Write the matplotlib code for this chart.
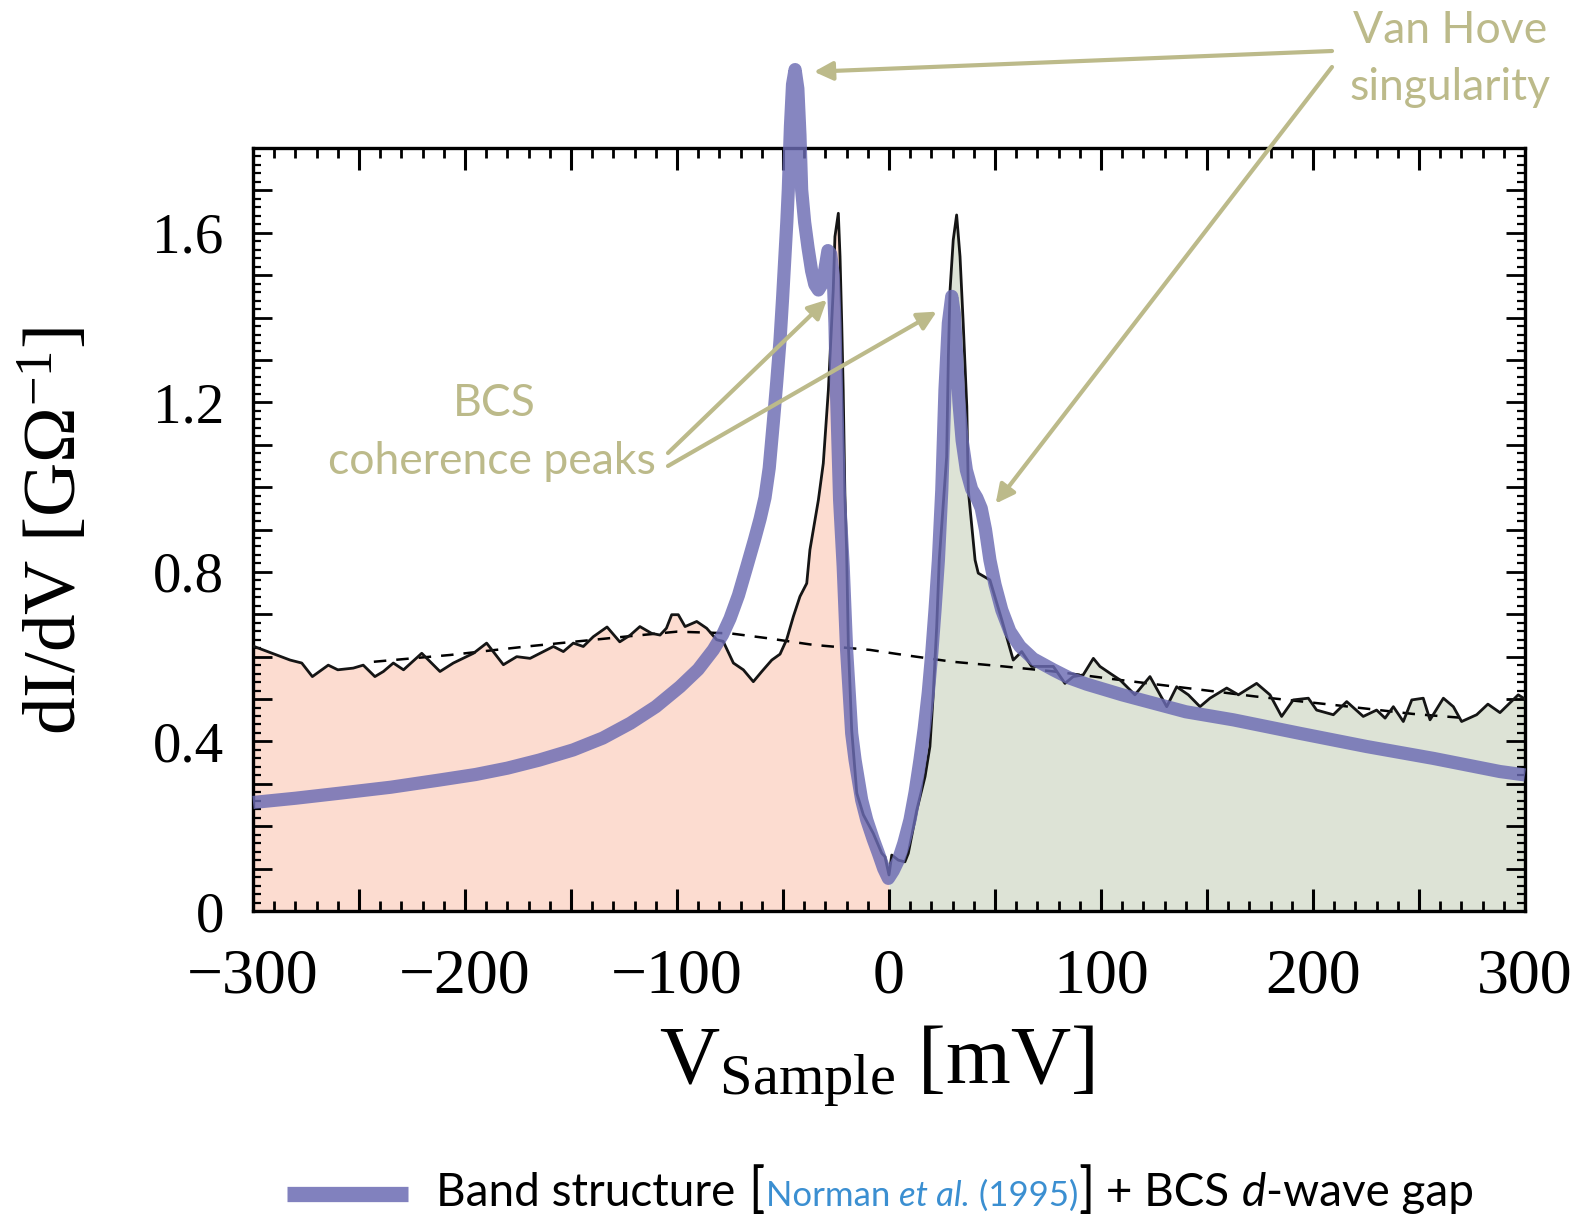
import numpy as np
import matplotlib
matplotlib.use("Agg")
import matplotlib.pyplot as plt
from matplotlib.lines import Line2D
from matplotlib.ticker import MultipleLocator

# ---------------- data ----------------
v_meas = [-300, -282.5, -277, -272, -264.5, -260, -252.7, -248, -242.5, -238.5,
          -233.8, -229, -220.4, -211.8, -205.5, -196, -189.8, -181.9, -175.6, -169.3,
          -164.6, -158.3, -153.6, -148.9, -144.2, -139.5, -133, -127, -122, -117.5,
          -112, -108, -105, -102.5, -99.4, -96.2, -90.7, -86, -81.3, -78.2,
          -73.4, -68.7, -64, -60, -55.3, -51.4, -48.3, -45.1, -42, -38.8,
          -37.3, -34.9, -33.3, -31, -28.6, -26.3, -25.5, -23.9, -23.1, -22.3,
          -21.6, -20.8, -20, -19.2, -17.6, -15.2, -12.1, -7.4, -3.4, -1.9,
          0.0, 1.3, 4.4, 7.5, 9.1, 13.1, 17, 19.3, 20.9, 22.5,
          23.7, 27.2, 28, 28.8, 30.3, 31.9, 33.5, 35, 36.7, 37.4,
          40.6, 42.1, 47.6, 53.2, 58.6, 62.6, 67.3, 71.2, 77.5, 83,
          86.9, 91.6, 96.4, 99.5, 104.2, 109, 116, 123.1, 131, 135.7,
          141.2, 146.7, 151.4, 159.3, 164.8, 173.4, 179.7, 185.2, 190.7, 197.8,
          201.7, 209.6, 215.9, 223.7, 230, 234, 237.9, 242.6, 246.6, 252,
          255.2, 261.5, 266.2, 270.1, 277.2, 282.5, 288.2, 296.8, 300]
didv_meas = [0.625, 0.592, 0.585, 0.553, 0.580, 0.569, 0.573, 0.580, 0.553, 0.565,
             0.585, 0.569, 0.608, 0.565, 0.585, 0.608, 0.632, 0.581, 0.600, 0.596,
             0.608, 0.624, 0.612, 0.632, 0.624, 0.647, 0.670, 0.635, 0.651, 0.671,
             0.655, 0.651, 0.667, 0.699, 0.699, 0.671, 0.683, 0.667, 0.640, 0.636,
             0.585, 0.569, 0.541, 0.565, 0.592, 0.606, 0.640, 0.695, 0.742, 0.773,
             0.852, 0.923, 0.970, 1.056, 1.229, 1.465, 1.591, 1.646, 1.544, 1.387,
             1.229, 0.980, 0.852, 0.632, 0.427, 0.278, 0.227, 0.183, 0.136, 0.128,
             0.085, 0.132, 0.120, 0.116, 0.136, 0.238, 0.317, 0.388, 0.514, 0.671,
             0.828, 1.072, 1.308, 1.465, 1.583, 1.642, 1.544, 1.387, 1.190, 0.993,
             0.828, 0.797, 0.781, 0.687, 0.592, 0.612, 0.577, 0.577, 0.577, 0.537,
             0.553, 0.557, 0.596, 0.577, 0.561, 0.545, 0.510, 0.553, 0.482, 0.529,
             0.510, 0.482, 0.502, 0.526, 0.510, 0.537, 0.510, 0.459, 0.498, 0.502,
             0.474, 0.463, 0.494, 0.459, 0.474, 0.455, 0.482, 0.447, 0.498, 0.502,
             0.451, 0.502, 0.482, 0.447, 0.463, 0.488, 0.468, 0.510, 0.500]

v_bg = [-243, -207, -171, -125, -100, -75, -58, -36, -9, 7,
        30, 54, 78, 109, 147, 173, 210, 247, 272]
didv_bg = [0.588, 0.604, 0.624, 0.647, 0.659, 0.655, 0.644, 0.628, 0.616, 0.604,
           0.588, 0.577, 0.565, 0.545, 0.522, 0.506, 0.486, 0.465, 0.455]

v_model = [-300, -280, -259, -235, -212, -195, -180, -165, -149, -135,
           -122, -110, -98.6, -90, -82.9, -78.5, -75, -71, -67.1, -63.5,
           -60.8, -58.5, -56.5, -54.6, -53, -51.4, -50.2, -49.1, -48.2, -47.5,
           -46.5, -45.5, -44.3, -43, -42, -41.2, -39.8, -38.2, -36.5, -35,
           -33.3, -31.5, -30.2, -28.8, -27.5, -26.3, -25.5, -24.8, -23.3, -21.6,
           -20, -17.6, -16, -12.9, -10.5, -7.5, -5, -2.5, -0.3, 2,
           4.4, 7, 9.9, 12.3, 14.6, 16.6, 18.5, 20.2, 21.7, 23.3,
           24.9, 26.4, 28, 29.6, 30.8, 31.8, 33, 34.5, 36.5, 39,
           41.4, 43.5, 45.5, 47.6, 50, 53.2, 57, 61.8, 68, 77.5,
           85, 93.3, 100, 110, 125, 140, 162.4, 193.9, 225.3, 256.8,
           288.2, 300]
didv_model = [0.256, 0.266, 0.278, 0.292, 0.309, 0.322, 0.337, 0.356, 0.380, 0.408,
              0.443, 0.482, 0.529, 0.570, 0.616, 0.652, 0.690, 0.745, 0.812, 0.875,
              0.925, 0.975, 1.045, 1.151, 1.245, 1.347, 1.445, 1.544, 1.625, 1.701,
              1.850, 1.950, 1.985, 1.940, 1.830, 1.701, 1.625, 1.565, 1.510, 1.478,
              1.465, 1.480, 1.515, 1.558, 1.550, 1.500, 1.387, 1.229, 0.970, 0.812,
              0.616, 0.419, 0.356, 0.262, 0.215, 0.170, 0.136, 0.100, 0.077, 0.095,
              0.120, 0.160, 0.215, 0.280, 0.356, 0.430, 0.514, 0.610, 0.710, 0.828,
              0.993, 1.229, 1.387, 1.450, 1.410, 1.320, 1.200, 1.110, 1.040, 0.995,
              0.975, 0.950, 0.900, 0.828, 0.770, 0.710, 0.660, 0.624, 0.595, 0.569,
              0.550, 0.535, 0.525, 0.510, 0.490, 0.470, 0.451, 0.419, 0.388, 0.360,
              0.329, 0.321]

xtick_values = [-300, -200, -100, 0, 100, 200, 300]
xtick_labels = ["\u2212300", "\u2212200", "\u2212100", "0", "100", "200", "300"]
ytick_values = [0.0, 0.4, 0.8, 1.2, 1.6]
ytick_labels = ["0", "0.4", "0.8", "1.2", "1.6"]

# ---------------- style ----------------
W, H = 1580, 1217
PURPLE = "#6b6bb3"
OLIVE = "#bcba8a"
BLUE = "#3b8fd1"
PEACH = "#fcdcd0"
SAGE = "#dde3d6"
SERIF = "Liberation Serif"
SANS = ["Lato", "DejaVu Sans"]

plt.rcParams["mathtext.fontset"] = "custom"
plt.rcParams["mathtext.rm"] = SERIF
plt.rcParams["mathtext.it"] = SERIF + ":italic"
plt.rcParams["mathtext.bf"] = SERIF + ":bold"


def fpos(x, y):
    return x / W, 1 - y / H


fig = plt.figure(figsize=(W / 100, H / 100), dpi=100)
ax_l, ax_r, ax_t, ax_b = 253, 1525, 148, 911
ax = fig.add_axes([ax_l / W, 1 - ax_b / H, (ax_r - ax_l) / W, (ax_b - ax_t) / H])

vm = np.array(v_meas)
dm = np.array(didv_meas)
ax.fill_between(vm, 0, dm, where=vm <= 0, color=PEACH, lw=0, zorder=1)
ax.fill_between(vm, 0, dm, where=vm >= 0, color=SAGE, lw=0, zorder=1)
ax.plot(v_bg, didv_bg, color="black", lw=1.8, ls=(0, (5, 4)), zorder=2)
ax.plot(v_meas, didv_meas, color="#151515", lw=2.0, zorder=3)
ax.plot(v_model, didv_model, color=PURPLE, lw=9.5, alpha=0.82,
        solid_capstyle="butt", solid_joinstyle="round", zorder=4, clip_on=False)

ax.set_xlim(-300, 300)
ax.set_ylim(0, 1.8)

major_x = np.arange(-300, 301, 50)
ax.set_xticks(major_x)
ax.set_xticklabels([xtick_labels[xtick_values.index(v)] if v in xtick_values else ""
                    for v in major_x])
major_y = np.round(np.arange(0, 1.81, 0.1), 2)
ax.set_yticks(major_y)
ax.set_yticklabels([ytick_labels[ytick_values.index(v)] if v in ytick_values else ""
                    for v in major_y])
ax.xaxis.set_minor_locator(MultipleLocator(10))
ax.yaxis.set_minor_locator(MultipleLocator(0.02))

ax.tick_params(which="both", direction="in", top=True, right=True, color="black")
ax.tick_params(axis="x", which="major", length=16, width=2.2, pad=27)
ax.tick_params(axis="x", which="minor", length=7, width=2.0)
ax.tick_params(axis="y", which="major", length=14, width=2.0, pad=21)
ax.tick_params(axis="y", which="minor", length=6, width=1.6)
for lab in ax.get_xticklabels():
    lab.set_fontfamily(SERIF)
    lab.set_fontsize(46)
for lab in ax.get_yticklabels():
    lab.set_fontfamily(SERIF)
    lab.set_fontsize(41)
for s in ax.spines.values():
    s.set_linewidth(2.4)
    s.set_color("black")

# axis labels
fig.text(*fpos(56, 531), r"dI/dV [G$\Omega^{-1}$]", rotation=90, ha="center",
         va="center", fontsize=54, family=SERIF)
fig.text(*fpos(877, 1083), r"V$_{\mathrm{Sample}}$ [mV]", ha="center",
         va="baseline", fontsize=60, family=SERIF)

# annotations
fig.text(*fpos(1450, 43), "Van Hove", ha="center", va="baseline", fontsize=32,
         color=OLIVE, family=SANS)
fig.text(*fpos(1450, 100), "singularity", ha="center", va="baseline", fontsize=32,
         color=OLIVE, family=SANS)
fig.text(*fpos(494, 416), "BCS", ha="center", va="baseline", fontsize=32,
         color=OLIVE, family=SANS)
fig.text(*fpos(492, 474), "coherence peaks", ha="center", va="baseline", fontsize=32,
         color=OLIVE, family=SANS)

arrow_kw = dict(arrowstyle="-|>", color=OLIVE, lw=3.0, mutation_scale=28,
                shrinkA=0, shrinkB=0)
arrows = [((1332, 51), (-35.4, 1.98)),
          ((1332, 67), (50.3, 0.961)),
          ((668, 453), (-29.3, 1.442)),
          ((668, 466), (22.5, 1.414))]
for (tx, ty), tip in arrows:
    ax.annotate("", xy=tip, xycoords="data", xytext=fpos(tx, ty),
                textcoords="figure fraction", arrowprops=arrow_kw,
                annotation_clip=False, zorder=6)

# legend (line + multi-coloured label)
fig.add_artist(Line2D([287 / W, 408 / W], [1 - 1194 / H, 1 - 1194 / H],
                      color=PURPLE, alpha=0.85, lw=11, solid_capstyle="butt"))
pieces = [("Band structure", "black", 33, "normal"),
          (" [", "black", 39, "normal"),
          ("Norman ", BLUE, 25, "normal"),
          ("et al.", BLUE, 25, "italic"),
          (" (1995)", BLUE, 25, "normal"),
          ("]", "black", 39, "normal"),
          (" + BCS ", "black", 33, "normal"),
          ("d", "black", 33, "italic"),
          ("-wave gap", "black", 33, "normal")]
fig.canvas.draw()
renderer = fig.canvas.get_renderer()
xcur = 436
base_y = 1206
for txt, col, fs, st in pieces:
    t = fig.text(*fpos(xcur, base_y), txt, ha="left", va="baseline", fontsize=fs,
                 color=col, family=SANS, style=st)
    bb = t.get_window_extent(renderer)
    xcur += bb.width

fig.savefig("out.png", dpi=100)
